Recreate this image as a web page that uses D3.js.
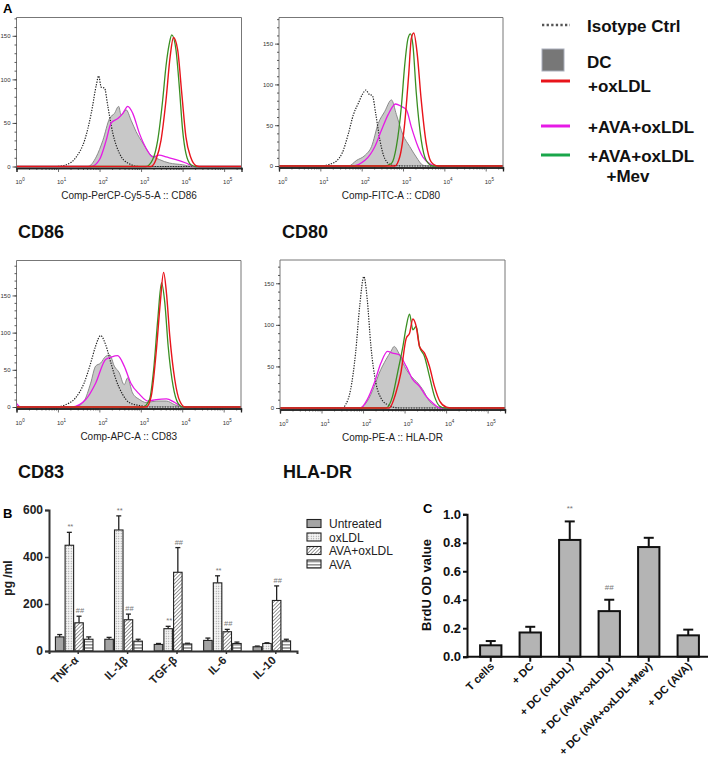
<!DOCTYPE html>
<html>
<head>
<meta charset="utf-8">
<script src="https://cdn.jsdelivr.net/npm/d3@7"></script>
<style>
body { margin: 0; background: #fff; }
svg { display: block; font-family: "Liberation Sans", Arial, sans-serif; }
</style>
</head>
<body>
<svg id="fig" width="709" height="767"></svg>
<script>
// ---- panel A: flow histograms, points are [log10 intensity, count] ----
const cd86Iso = [[0,0],[0.96,0],[1.2,2],[1.44,11],[1.64,30],[1.8,61],[1.92,93],[1.98,104],[2.04,91],[2.12,90],[2.2,69],[2.32,38],[2.48,15],[2.68,4],[2.96,0],[5.42,0]];
const cd86DC  = [[0,0],[1.72,0],[1.92,11],[2.08,30],[2.24,55],[2.36,61],[2.46,69],[2.52,59],[2.64,65],[2.76,53],[2.88,40],[3.04,27],[3.2,15],[3.44,8],[3.68,4],[4.0,2],[4.24,0],[5.42,0]];
const cd86Ava = [[0,0],[1.8,0],[2.0,8],[2.16,30],[2.28,50],[2.44,55],[2.56,61],[2.68,69],[2.8,61],[2.96,38],[3.12,21],[3.28,11],[3.44,13],[3.6,11],[3.84,8],[4.08,4],[4.28,0],[5.42,0]];
const cd86Mev = [[0,0],[3.12,0],[3.28,8],[3.4,30],[3.52,76],[3.6,115],[3.68,141],[3.74,151],[3.84,134],[3.92,92],[4.0,42],[4.08,15],[4.2,2],[4.32,0],[5.42,0]];
const cd86Ox  = [[0,0],[3.24,0],[3.36,8],[3.48,30],[3.6,76],[3.7,126],[3.78,148],[3.88,134],[3.98,84],[4.08,34],[4.2,10],[4.32,1],[4.4,0],[5.42,0]];

const cd80Iso = [[0,0],[0.96,0],[1.28,3],[1.52,15],[1.68,40],[1.8,63],[1.92,77],[2.02,88],[2.1,93],[2.18,88],[2.26,86],[2.34,64],[2.44,32],[2.56,9],[2.72,1],[3.04,0],[5.42,0]];
const cd80DC  = [[0,0],[1.68,0],[1.88,7],[2.08,13],[2.24,24],[2.4,52],[2.56,67],[2.72,81],[2.84,63],[3.0,38],[3.16,24],[3.32,11],[3.48,1],[3.6,0],[5.42,0]];
const cd80Ava = [[0,0],[1.76,0],[2.08,7],[2.32,24],[2.48,44],[2.64,63],[2.82,76],[2.96,73],[3.08,69],[3.2,48],[3.36,24],[3.48,11],[3.64,3],[3.8,0],[5.42,0]];
const cd80Mev = [[0,0],[2.56,0],[2.72,3],[2.84,24],[2.96,73],[3.04,123],[3.12,156],[3.18,162],[3.24,148],[3.32,90],[3.44,32],[3.56,7],[3.72,0],[5.42,0]];
const cd80Ox  = [[0,0],[2.8,0],[2.92,11],[3.04,52],[3.14,114],[3.2,156],[3.26,163],[3.34,139],[3.44,81],[3.56,28],[3.68,5],[3.84,0],[5.42,0]];

const cd83Iso = [[0,0],[0.93,0],[1.18,3],[1.42,12],[1.63,32],[1.79,59],[1.91,82],[2.03,96],[2.15,84],[2.28,59],[2.4,37],[2.56,17],[2.72,6],[2.97,2],[3.21,0],[5.42,0]];
const cd83DC  = [[0,0],[1.42,0],[1.63,8],[1.79,32],[1.91,55],[2.03,59],[2.15,68],[2.25,70],[2.36,55],[2.48,46],[2.6,30],[2.68,39],[2.8,19],[2.97,10],[3.13,6],[3.37,8],[3.62,8],[3.82,3],[4.02,0],[5.42,0]];
const cd83Ava = [[0,5],[0.1,0],[1.34,0],[1.67,10],[1.91,32],[2.15,64],[2.28,67],[2.44,69],[2.6,55],[2.76,32],[2.97,17],[3.17,8],[3.37,10],[3.62,11],[3.82,6],[4.02,0],[5.42,0]];
const cd83Mev = [[0,0],[3.05,0],[3.21,10],[3.31,50],[3.41,118],[3.5,167],[3.58,140],[3.66,82],[3.78,28],[3.9,5],[4.02,0],[5.42,0]];
const cd83Ox  = [[0,0],[3.13,0],[3.25,14],[3.37,73],[3.47,140],[3.55,181],[3.62,153],[3.7,95],[3.82,37],[3.94,8],[4.07,0],[5.42,0]];

const hlaIso = [[0,0],[1.5,0],[1.58,4],[1.7,22],[1.82,66],[1.92,123],[2.02,158],[2.1,131],[2.19,74],[2.31,30],[2.43,12],[2.59,4],[2.87,0],[5.42,0]];
const hlaDC  = [[0,0],[1.9,0],[2.1,8],[2.27,26],[2.39,42],[2.55,58],[2.67,68],[2.75,74],[2.86,66],[3.0,50],[3.16,38],[3.32,30],[3.44,22],[3.6,8],[3.77,2],[3.93,0],[5.42,0]];
const hlaAva = [[0,0],[1.94,0],[2.1,10],[2.27,30],[2.43,54],[2.59,68],[2.71,66],[2.87,64],[3.04,50],[3.2,34],[3.36,26],[3.52,14],[3.68,6],[3.85,0],[5.42,0]];
const hlaMev = [[0,0],[2.55,0],[2.71,14],[2.83,42],[2.96,74],[3.04,98],[3.12,113],[3.2,94],[3.28,98],[3.36,74],[3.48,62],[3.6,38],[3.72,14],[3.85,2],[3.97,0],[5.42,0]];
const hlaOx  = [[0,0],[2.63,0],[2.79,18],[2.91,42],[3.04,84],[3.12,90],[3.2,107],[3.28,98],[3.36,74],[3.48,66],[3.6,50],[3.72,26],[3.85,8],[4.01,1],[4.13,0],[5.42,0]];

const histTitles = ["Comp-PerCP-Cy5-5-A :: CD86", "Comp-FITC-A :: CD80", "Comp-APC-A :: CD83", "Comp-PE-A :: HLA-DR"];
const markerNames = ["CD86", "CD80", "CD83", "HLA-DR"];
const histTicks = [0, 50, 100, 150];
const legendNames = ["Isotype Ctrl", "DC", "+oxLDL", "+AVA+oxLDL", "+AVA+oxLDL"];

// ---- panel B: cytokines ----
const cytokines = ["TNF-α", "IL-1β", "TGF-β", "IL-6", "IL-10"];
const treatments = ["Untreated", "oxLDL", "AVA+oxLDL", "AVA"];
const untreatedMean = [60, 50, 28, 45, 18];
const untreatedSem  = [10, 8, 4, 10, 3];
const oxldlMean = [450, 515, 95, 290, 32];
const oxldlSem  = [55, 60, 10, 30, 3];
const avaOxMean = [120, 133, 335, 82, 215];
const avaOxSem  = [28, 24, 105, 10, 62];
const avaMean = [50, 42, 30, 32, 43];
const avaSem  = [10, 8, 3, 6, 7];
const oxldlSig = ["**", "**", "**", "**", ""];
const avaOxSig = ["##", "##", "##", "##", "##"];
const cytoTicks = [0, 200, 400, 600];

// ---- panel C: BrdU ----
const brduGroups = ["T cells", "+ DC", "+ DC (oxLDL)", "+ DC (AVA+oxLDL)", "+ DC (AVA+oxLDL+Mev)", "+ DC (AVA)"];
const brduMean = [0.08, 0.17, 0.82, 0.32, 0.77, 0.15];
const brduSem  = [0.03, 0.04, 0.13, 0.08, 0.065, 0.04];
const brduSig  = ["", "", "**", "##", "", ""];

const svg = d3.select("#fig");
const RED = "#e8141b", MAG = "#e61ae6", GRN = "#3a8f22", GRN_LEG = "#19a64a";

// ================= A =================
svg.append("text").attr("x", 3).attr("y", 13).attr("font-size", 13).attr("font-weight", "bold").text("A");

const panels = [
  { x0: 16.5, x1: 241.5, y0: 17.5, y1: 166.5, ymax: 171, curves: [cd86DC, cd86Iso, cd86Ava, cd86Mev, cd86Ox], nameY: 238 },
  { x0: 279, x1: 503, y0: 17.5, y1: 166, ymax: 182, curves: [cd80DC, cd80Iso, cd80Ava, cd80Mev, cd80Ox], nameY: 238 },
  { x0: 16.5, x1: 241, y0: 260.5, y1: 407, ymax: 197, curves: [cd83DC, cd83Iso, cd83Ava, cd83Mev, cd83Ox], nameY: 478 },
  { x0: 280, x1: 505, y0: 260, y1: 408, ymax: 178, curves: [hlaDC, hlaIso, hlaAva, hlaMev, hlaOx], nameY: 478 }
];

const majors = d3.range(0, 6).map(e => 10 ** e);
const minors = [];
for (let e = 0; e < 6; e++) for (let k = 2; k < 10; k++) if (k * 10 ** e < 262144) minors.push(k * 10 ** e);

panels.forEach((p, i) => {
  const g = svg.append("g");
  const x = d3.scaleLog().domain([1, 262144]).range([p.x0, p.x1]);
  const y = d3.scaleLinear().domain([0, p.ymax]).range([p.y1, p.y0]);
  const base = p.y1 + 1.5;

  const line = d3.line().x(d => x(10 ** d[0])).y(d => y(d[1])).curve(d3.curveMonotoneX);
  const area = d3.area().x(d => x(10 ** d[0])).y0(y(0)).y1(d => y(d[1])).curve(d3.curveMonotoneX);

  const [dc, iso, ava, mev, ox] = p.curves;
  g.append("path").attr("d", area(dc)).attr("fill", "#c8c8c8").attr("stroke", "#8a8a8a").attr("stroke-width", 1);
  g.append("path").attr("d", line(iso)).attr("fill", "none").attr("stroke", "#222").attr("stroke-width", 1.2).attr("stroke-dasharray", "1.3,1.3");
  g.append("path").attr("d", line(ava)).attr("fill", "none").attr("stroke", MAG).attr("stroke-width", 1.3);
  g.append("path").attr("d", line(mev)).attr("fill", "none").attr("stroke", GRN).attr("stroke-width", 1.3);
  g.append("path").attr("d", line(ox)).attr("fill", "none").attr("stroke", RED).attr("stroke-width", 1.4);

  // frame
  g.append("path").attr("d", `M${p.x0},${base}V${p.y0}H${p.x1}V${base}`)
    .attr("fill", "none").attr("stroke", "#777").attr("stroke-width", 1);

  // x axis
  const gx = g.append("g").attr("transform", `translate(0,${base})`);
  gx.append("g").call(d3.axisBottom(x).tickValues(minors).tickSize(2).tickFormat(""));
  gx.append("g").call(d3.axisBottom(x).tickValues(majors).tickSize(4).tickFormat(""));
  gx.selectAll(".domain").attr("stroke", "#222").attr("stroke-width", 1.3);
  gx.selectAll(".tick line").attr("stroke", "#333").attr("stroke-width", 0.7);
  majors.forEach((v, j) => {
    const t = g.append("text").attr("x", x(v) - 1).attr("y", base + 16)
      .attr("font-size", 6).attr("fill", "#333").text("10");
    t.append("tspan").attr("dy", -3).attr("font-size", 4.5).text(j);
  });

  // y axis
  const gy = g.append("g").attr("transform", `translate(${p.x0},0)`);
  gy.append("g").call(d3.axisLeft(y).tickValues(d3.range(0, p.ymax, 10)).tickSize(2).tickFormat(""));
  gy.append("g").call(d3.axisLeft(y).tickValues(histTicks).tickSize(4).tickPadding(2));
  gy.selectAll(".domain").remove();
  gy.selectAll(".tick line").attr("stroke", "#333").attr("stroke-width", 0.8);
  gy.selectAll(".tick text").attr("font-size", 6).attr("fill", "#333").attr("font-family", "Liberation Sans, Arial, sans-serif");

  g.append("text").attr("x", (p.x0 + p.x1) / 2).attr("y", base + 31)
    .attr("text-anchor", "middle").attr("font-size", 10).attr("fill", "#222").text(histTitles[i]);

  svg.append("text").attr("x", p.x0 + (i % 2 ? 3 : 1.5)).attr("y", p.nameY)
    .attr("font-size", 18).attr("font-weight", "bold").attr("fill", "#111").text(markerNames[i]);
});

// legend A
const legA = svg.append("g").attr("font-size", 17).attr("font-weight", "bold").attr("fill", "#111");
legA.append("line").attr("x1", 542).attr("x2", 570).attr("y1", 25).attr("y2", 25)
  .attr("stroke", "#555").attr("stroke-width", 2.5).attr("stroke-dasharray", "2.3,2.3");
legA.append("rect").attr("x", 542).attr("y", 49).attr("width", 22).attr("height", 22)
  .attr("fill", "#777").attr("stroke", "#a9aebb").attr("stroke-width", 1);
[[RED, 81], [MAG, 126], [GRN_LEG, 155]].forEach(([c, yy]) =>
  legA.append("line").attr("x1", 541).attr("x2", 570).attr("y1", yy).attr("y2", yy).attr("stroke", c).attr("stroke-width", 3));
[[587, 32], [587, 68], [588, 92], [588, 133], [588, 162]].forEach(([xx, yy], i) =>
  legA.append("text").attr("x", xx).attr("y", yy).text(legendNames[i]));
legA.append("text").attr("x", 628).attr("y", 182).attr("text-anchor", "middle").text("+Mev");

// ================= B =================
const defs = svg.append("defs");
const pDots = defs.append("pattern").attr("id", "dots").attr("width", 2.5).attr("height", 2.5).attr("patternUnits", "userSpaceOnUse");
pDots.append("rect").attr("width", 2.5).attr("height", 2.5).attr("fill", "#f4f4f4");
pDots.append("circle").attr("cx", 1.25).attr("cy", 1.25).attr("r", 0.55).attr("fill", "#888");
const pHatch = defs.append("pattern").attr("id", "hatch").attr("width", 2.6).attr("height", 2.6)
  .attr("patternUnits", "userSpaceOnUse").attr("patternTransform", "rotate(45)");
pHatch.append("rect").attr("width", 2.6).attr("height", 2.6).attr("fill", "#fff");
pHatch.append("line").attr("x1", 0).attr("x2", 0).attr("y1", 0).attr("y2", 2.6).attr("stroke", "#444").attr("stroke-width", 1.1);
const pStripe = defs.append("pattern").attr("id", "stripe").attr("width", 4).attr("height", 3.2).attr("patternUnits", "userSpaceOnUse");
pStripe.append("rect").attr("width", 4).attr("height", 3.2).attr("fill", "#fff");
pStripe.append("line").attr("x1", 0).attr("x2", 4).attr("y1", 1.6).attr("y2", 1.6).attr("stroke", "#444").attr("stroke-width", 0.9);

const fills = ["#a4a4a4", "url(#dots)", "url(#hatch)", "url(#stripe)"];
const bMeans = [untreatedMean, oxldlMean, avaOxMean, avaMean];
const bSems = [untreatedSem, oxldlSem, avaOxSem, avaSem];
const bSigs = [null, oxldlSig, avaOxSig, null];

const xB = d3.scaleBand().domain(cytokines).range([49, 297]).paddingInner(0.24).paddingOuter(0.13);
const xB1 = d3.scaleBand().domain(treatments).range([0, xB.bandwidth()]).paddingInner(0.12);
const yB = d3.scaleLinear().domain([0, 600]).range([651, 510]);

svg.append("text").attr("x", 3).attr("y", 518).attr("font-size", 13).attr("font-weight", "bold").text("B");

const gB = svg.append("g");
treatments.forEach((t, s) => {
  cytokines.forEach((c, k) => {
    const bx = xB(c) + xB1(t), bw = xB1.bandwidth();
    const top = yB(bMeans[s][k] + bSems[s][k]);
    gB.append("line").attr("x1", bx + bw / 2).attr("x2", bx + bw / 2)
      .attr("y1", yB(bMeans[s][k])).attr("y2", top).attr("stroke", "#222").attr("stroke-width", 1.3);
    gB.append("line").attr("x1", bx + bw / 2 - 2.5).attr("x2", bx + bw / 2 + 2.5)
      .attr("y1", top).attr("y2", top).attr("stroke", "#222").attr("stroke-width", 1.3);
    gB.append("rect").attr("x", bx).attr("y", yB(bMeans[s][k])).attr("width", bw)
      .attr("height", yB(0) - yB(bMeans[s][k])).attr("fill", fills[s]).attr("stroke", "#222").attr("stroke-width", 1.1);
    if (bSigs[s] && bSigs[s][k]) {
      gB.append("text").attr("x", bx + bw / 2 + 1).attr("y", top - 3).attr("text-anchor", "middle")
        .attr("font-size", 7.5).attr("fill", "#777").text(bSigs[s][k]);
    }
  });
});

const axB = gB.append("g").attr("transform", "translate(49,0)")
  .call(d3.axisLeft(yB).tickValues(cytoTicks).tickSize(4).tickPadding(2));
const axBx = gB.append("g").attr("transform", `translate(0,${yB(0)})`)
  .call(d3.axisBottom(xB).tickSize(3).tickFormat(""));
[axB, axBx].forEach(a => {
  a.select(".domain").attr("stroke", "#333").attr("stroke-width", 2);
  a.selectAll(".tick line").attr("stroke", "#333").attr("stroke-width", 1.5);
});
axB.selectAll(".tick text").attr("font-size", 12).attr("font-weight", "bold").attr("fill", "#222")
  .attr("font-family", "Liberation Sans, Arial, sans-serif");
axBx.selectAll(".tick line").attr("transform", "translate(4,0)");
cytokines.forEach(c => {
  gB.append("text").attr("transform", `translate(${xB(c) + xB.bandwidth() / 2 + 5},661) rotate(-45)`)
    .attr("text-anchor", "end").attr("font-size", 11.5).attr("font-weight", "bold").attr("fill", "#222").text(c);
});
gB.append("text").attr("transform", "translate(12,578) rotate(-90)").attr("text-anchor", "middle")
  .attr("font-size", 12).attr("font-weight", "bold").attr("fill", "#222").text("pg /ml");

const legB = svg.append("g").attr("font-size", 12).attr("fill", "#222");
treatments.forEach((t, s) => {
  const yy = 528 + s * 13.5;
  legB.append("rect").attr("x", 307).attr("y", yy - 8.5).attr("width", 14).attr("height", 8)
    .attr("fill", fills[s]).attr("stroke", "#222").attr("stroke-width", 1.1);
  legB.append("text").attr("x", 329).attr("y", yy).text(t);
});

// ================= C =================
const xC = d3.scaleBand().domain(brduGroups).range([471, 708]).paddingInner(0.46).paddingOuter(0.23);
const yC = d3.scaleLinear().domain([0, 1]).range([656.7, 514.3]);

svg.append("text").attr("x", 423).attr("y", 513).attr("font-size", 13).attr("font-weight", "bold").text("C");
const gC = svg.append("g");
brduGroups.forEach((gname, k) => {
  const bx = xC(gname), bw = xC.bandwidth(), cx = bx + bw / 2;
  const top = yC(brduMean[k] + brduSem[k]);
  gC.append("line").attr("x1", cx).attr("x2", cx).attr("y1", yC(brduMean[k])).attr("y2", top)
    .attr("stroke", "#111").attr("stroke-width", 2);
  gC.append("line").attr("x1", cx - 5).attr("x2", cx + 5).attr("y1", top).attr("y2", top)
    .attr("stroke", "#111").attr("stroke-width", 2);
  gC.append("rect").attr("x", bx).attr("y", yC(brduMean[k])).attr("width", bw)
    .attr("height", yC(0) - yC(brduMean[k])).attr("fill", "#b4b4b4").attr("stroke", "#111").attr("stroke-width", 2);
  if (brduSig[k]) {
    gC.append("text").attr("x", cx).attr("y", top - 10).attr("text-anchor", "middle")
      .attr("font-size", 8).attr("fill", "#777").text(brduSig[k]);
  }
});
const axC = gC.append("g").attr("transform", "translate(467,0)")
  .call(d3.axisLeft(yC).tickValues(d3.range(0, 1.01, 0.2)).tickFormat(d3.format(".1f")).tickSize(4).tickPadding(2));
const axCx = gC.append("g").attr("transform", `translate(0,${yC(0)})`)
  .call(d3.axisBottom(xC).tickSize(5).tickFormat(""));
axCx.select(".domain").attr("d", `M467,0H708`);
[axC, axCx].forEach(a => {
  a.select(".domain").attr("stroke", "#111").attr("stroke-width", 2);
  a.selectAll(".tick line").attr("stroke", "#111").attr("stroke-width", 2);
});
axC.selectAll(".tick text").attr("font-size", 13).attr("font-weight", "bold").attr("fill", "#111")
  .attr("font-family", "Liberation Sans, Arial, sans-serif");
brduGroups.forEach(gname => {
  gC.append("text").attr("transform", `translate(${xC(gname) + xC.bandwidth() / 2 + 4},667) rotate(-45)`)
    .attr("text-anchor", "end").attr("font-size", 11).attr("font-weight", "bold").attr("fill", "#111").text(gname);
});
gC.append("text").attr("transform", "translate(431,585) rotate(-90)").attr("text-anchor", "middle")
  .attr("font-size", 13).attr("font-weight", "bold").attr("fill", "#111").text("BrdU OD value");
</script>
</body>
</html>
